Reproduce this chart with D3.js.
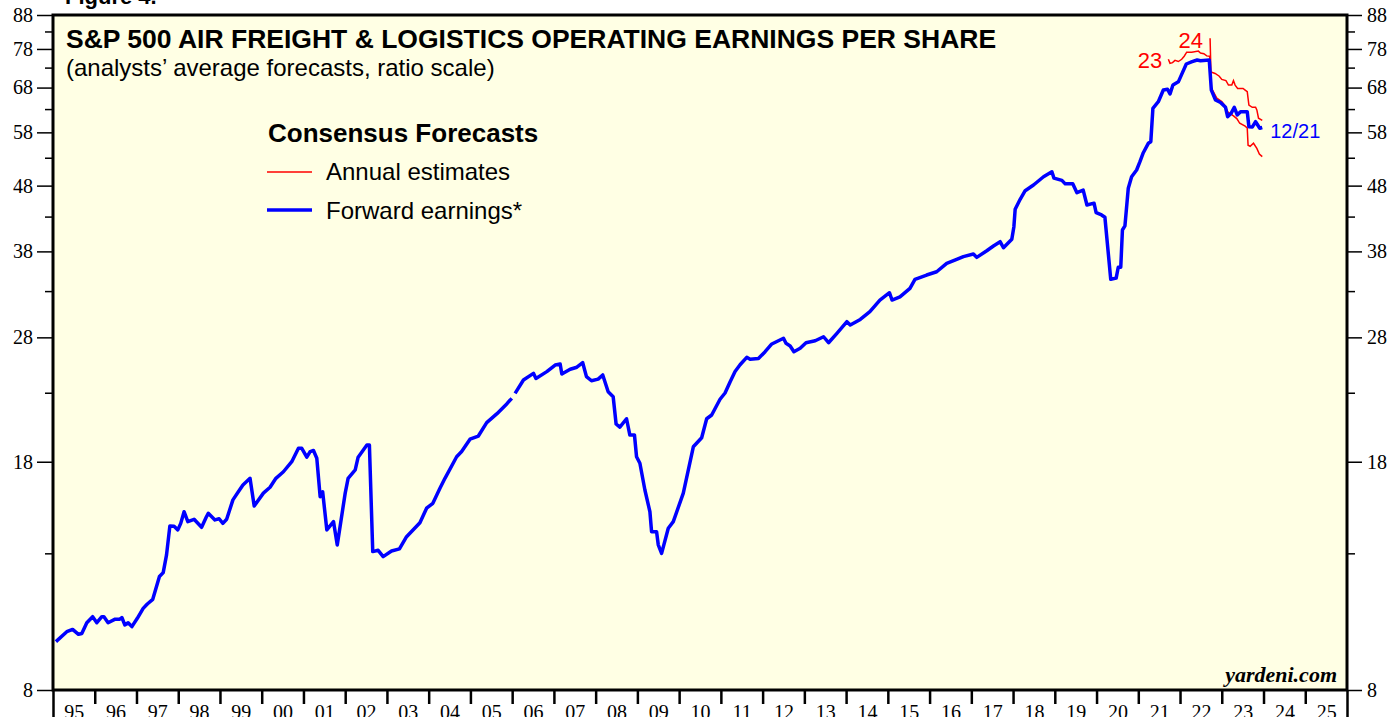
<!DOCTYPE html>
<html>
<head>
<meta charset="utf-8">
<script src="https://cdn.jsdelivr.net/npm/d3@7"></script>
<style>
  body { margin: 0; background: #ffffff; }
  svg { display: block; }
  .axis text { font-family: "Liberation Serif", "Times New Roman", serif; font-size: 20px; fill: #000; }
  .axis line { stroke: #000; }
  .axis path { display: none; }
  .label { font-family: "Liberation Sans", Arial, sans-serif; }
</style>
</head>
<body>
<svg id="chart"></svg>
<script>
// Forward earnings (weekly series), [decimal year, value]
const forwardEarnings = [
  [1995.07, 9.50], [1995.33, 9.84], [1995.47, 9.92], [1995.61, 9.75], [1995.69, 9.78], [1995.81, 10.16],
  [1995.95, 10.38], [1996.05, 10.16], [1996.17, 10.38], [1996.22, 10.38], [1996.32, 10.16], [1996.49, 10.29],
  [1996.60, 10.29], [1996.65, 10.35], [1996.72, 10.08], [1996.80, 10.16], [1996.89, 10.02], [1997.02, 10.32],
  [1997.16, 10.69], [1997.26, 10.86], [1997.39, 11.04], [1997.55, 11.97], [1997.64, 12.14], [1997.72, 12.93],
  [1997.80, 14.33], [1997.90, 14.31], [1997.99, 14.13], [1998.06, 14.46], [1998.14, 15.07], [1998.23, 14.55],
  [1998.38, 14.67], [1998.56, 14.26], [1998.67, 14.78], [1998.72, 14.99], [1998.88, 14.64], [1998.98, 14.70],
  [1999.07, 14.46], [1999.16, 14.67], [1999.31, 15.72], [1999.44, 16.18], [1999.55, 16.57], [1999.72, 16.97],
  [1999.82, 15.38], [2000.04, 16.10], [2000.20, 16.44], [2000.34, 16.97], [2000.52, 17.37], [2000.72, 18.00],
  [2000.88, 18.88], [2000.96, 18.88], [2001.08, 18.29], [2001.16, 18.66], [2001.24, 18.73], [2001.32, 18.22],
  [2001.40, 15.90], [2001.46, 16.18], [2001.56, 14.13], [2001.72, 14.55], [2001.81, 13.39], [2002.00, 16.10],
  [2002.07, 16.97], [2002.24, 17.48], [2002.31, 18.29], [2002.52, 19.10], [2002.58, 19.10], [2002.66, 13.08],
  [2002.79, 13.14], [2002.91, 12.85], [2003.11, 13.11], [2003.30, 13.21], [2003.47, 13.79], [2003.79, 14.49],
  [2003.95, 15.26], [2004.10, 15.53], [2004.27, 16.38], [2004.39, 16.97], [2004.67, 18.32], [2004.79, 18.66],
  [2004.99, 19.50], [2005.19, 19.72], [2005.39, 20.68], [2005.63, 21.33], [2005.87, 22.10], [2005.99, 22.55],
  [2006.03, null],
  [2006.07, 22.95], [2006.27, 24.06], [2006.51, 24.64], [2006.57, 24.20], [2006.83, 24.79], [2007.03, 25.38],
  [2007.15, 25.47], [2007.19, 24.58], [2007.39, 25.00], [2007.55, 25.18], [2007.69, 25.59], [2007.78, 24.35],
  [2007.90, 24.00], [2008.06, 24.14], [2008.17, 24.50], [2008.30, 23.08], [2008.42, 22.67], [2008.49, 20.58],
  [2008.58, 20.35], [2008.74, 20.97], [2008.82, 19.79], [2008.93, 19.79], [2008.98, 18.32], [2009.06, 17.90],
  [2009.18, 16.28], [2009.30, 15.07], [2009.34, 14.04], [2009.46, 14.04], [2009.50, 13.40], [2009.58, 13.00],
  [2009.74, 14.21], [2009.86, 14.55], [2010.10, 16.10], [2010.34, 18.98], [2010.54, 19.60], [2010.66, 20.97],
  [2010.78, 21.25], [2010.98, 22.47], [2011.10, 22.98], [2011.22, 23.90], [2011.34, 24.80], [2011.46, 25.40],
  [2011.62, 26.08], [2011.70, 25.90], [2011.90, 25.97], [2012.06, 26.61], [2012.22, 27.35], [2012.50, 27.91],
  [2012.56, 27.41], [2012.66, 27.16], [2012.75, 26.61], [2012.90, 26.93], [2013.04, 27.47], [2013.26, 27.66],
  [2013.46, 28.06], [2013.58, 27.47], [2013.78, 28.40], [2014.02, 29.60], [2014.10, 29.26], [2014.34, 29.84],
  [2014.57, 30.67], [2014.81, 31.97], [2015.04, 32.81], [2015.10, 31.97], [2015.29, 32.33], [2015.53, 33.33],
  [2015.65, 34.41], [2015.93, 34.94], [2016.17, 35.35], [2016.41, 36.42], [2016.65, 36.94], [2016.81, 37.30],
  [2017.05, 37.65], [2017.13, 37.20], [2017.37, 38.09], [2017.53, 38.74], [2017.69, 39.33], [2017.77, 38.49],
  [2017.97, 39.67], [2018.02, 41.48], [2018.05, 44.13], [2018.17, 45.73], [2018.29, 47.14], [2018.49, 48.11],
  [2018.73, 49.54], [2018.93, 50.43], [2018.98, 49.30], [2019.17, 48.90], [2019.25, 48.30], [2019.43, 48.30],
  [2019.53, 46.81], [2019.68, 47.24], [2019.77, 44.81], [2019.94, 45.10], [2019.99, 43.60], [2020.12, 43.25],
  [2020.20, 42.90], [2020.34, 34.41], [2020.47, 34.56], [2020.52, 35.92], [2020.58, 35.92], [2020.62, 41.00],
  [2020.68, 41.60], [2020.76, 47.55], [2020.84, 49.54], [2020.96, 50.74], [2021.04, 52.26], [2021.12, 53.95],
  [2021.24, 55.78], [2021.30, 56.10], [2021.35, 63.18], [2021.48, 64.67], [2021.60, 67.42], [2021.70, 67.60],
  [2021.76, 66.47], [2021.83, 68.62], [2021.96, 69.40], [2022.05, 71.53], [2022.15, 73.94], [2022.29, 74.57],
  [2022.41, 75.00], [2022.49, 74.80], [2022.70, 75.00], [2022.75, 67.40], [2022.85, 65.07], [2022.97, 64.50],
  [2023.09, 63.40], [2023.14, 61.32], [2023.22, 62.00], [2023.30, 63.40], [2023.37, 61.70], [2023.45, 62.42],
  [2023.61, 62.42], [2023.65, 59.18], [2023.73, 59.10], [2023.81, 60.24], [2023.91, 58.85], [2023.97, 59.00]
];

// Annual consensus estimates for 2023 and 2024
const estimates2023 = [
  [2021.72, 75.2], [2021.76, 74.1], [2021.82, 74.3], [2021.88, 74.9], [2021.96, 74.6], [2022.04, 75.2],
  [2022.10, 76.0], [2022.16, 77.1], [2022.28, 77.1], [2022.44, 77.4], [2022.49, 76.9], [2022.57, 76.7],
  [2022.64, 76.1], [2022.71, 76.0], [2022.74, 68.2], [2022.80, 67.0], [2022.88, 65.5], [2023.00, 64.7],
  [2023.08, 63.7], [2023.14, 62.4], [2023.28, 61.5], [2023.36, 60.9], [2023.43, 59.9], [2023.56, 59.3],
  [2023.61, 58.9], [2023.63, 55.4], [2023.68, 55.2], [2023.76, 55.8], [2023.84, 54.8], [2023.90, 53.7],
  [2023.97, 53.2]
];
const estimates2024 = [
  [2022.72, 81.0], [2022.74, 71.9], [2022.84, 71.5], [2022.94, 70.8], [2023.00, 70.0], [2023.10, 69.7],
  [2023.16, 68.6], [2023.24, 68.6], [2023.28, 69.7], [2023.32, 68.6], [2023.38, 67.8], [2023.51, 67.8],
  [2023.56, 67.4], [2023.61, 67.0], [2023.65, 63.9], [2023.73, 63.4], [2023.81, 63.4], [2023.84, 62.8],
  [2023.88, 61.0], [2023.97, 60.5]
];

const yMajorTicks = [8, 18, 28, 38, 48, 58, 68, 78, 88];
const yMinorTicks = [13, 23, 33, 43, 53, 63, 73, 83];
const years = d3.range(1995, 2027);
const yearLabels = d3.range(1995, 2026);
const lastDateLabel = '12/21';

class LogLineChart {

    constructor(_config) {
      this.config = {
        parentElement: _config.parentElement,
        containerWidth: _config.containerWidth || 1394,
        containerHeight: _config.containerHeight || 717,
        margin: _config.margin || {top: 15, right: 47, bottom: 27, left: 53}
      };
      this.initVis();
    }

    initVis() {
      let vis = this;

      vis.width = vis.config.containerWidth - vis.config.margin.left - vis.config.margin.right;
      vis.height = vis.config.containerHeight - vis.config.margin.top - vis.config.margin.bottom;

      vis.xScale = d3.scaleLinear()
          .domain([1995, 2026])
          .range([0, vis.width]);

      vis.yScale = d3.scaleLog()
          .domain([8, 88])
          .range([vis.height, 0]);

      vis.svg = d3.select(vis.config.parentElement)
          .attr('width', vis.config.containerWidth)
          .attr('height', vis.config.containerHeight);

      vis.chart = vis.svg.append('g')
          .attr('transform', `translate(${vis.config.margin.left},${vis.config.margin.top})`);

      // plot background
      vis.chart.append('rect')
          .attr('width', vis.width)
          .attr('height', vis.height)
          .attr('fill', '#ffffe4');

      vis.line = d3.line()
          .defined(d => d[1] != null)
          .x(d => vis.xScale(d[0]))
          .y(d => vis.yScale(d[1]));
    }

    renderVis() {
      let vis = this;

      // y axes, majors with labels and minors without
      const yLeft = vis.chart.append('g').attr('class', 'axis');
      yLeft.call(d3.axisLeft(vis.yScale).tickValues(yMajorTicks).tickSize(16).tickPadding(4).tickFormat(d3.format('d')));
      yLeft.append('g').call(d3.axisLeft(vis.yScale).tickValues(yMinorTicks).tickSize(8).tickFormat(''));

      const yRight = vis.chart.append('g').attr('class', 'axis')
          .attr('transform', `translate(${vis.width},0)`);
      yRight.call(d3.axisRight(vis.yScale).tickValues(yMajorTicks).tickSize(15).tickPadding(5).tickFormat(d3.format('d')));
      yRight.append('g').call(d3.axisRight(vis.yScale).tickValues(yMinorTicks).tickSize(8).tickFormat(''));
      vis.chart.selectAll('.axis line').attr('stroke-width', 1.5);

      // x axis: year boundaries as ticks, labels in the middle of each year
      const xAxisG = vis.chart.append('g').attr('class', 'axis')
          .attr('transform', `translate(0,${vis.height})`);
      xAxisG.call(d3.axisBottom(vis.xScale).tickValues(years).tickSize(14).tickFormat(''));
      xAxisG.selectAll('line').attr('stroke-width', 2.5)
          .attr('y2', d => (d === 1995 || d === 2026) ? 30 : 14);
      const xLabelG = vis.chart.append('g').attr('class', 'axis')
          .attr('transform', `translate(0,${vis.height})`);
      xLabelG.call(d3.axisBottom(vis.xScale).tickValues(yearLabels.map(y => y + 0.5))
          .tickSize(0).tickPadding(15).tickFormat(d => String(Math.floor(d) % 100).padStart(2, '0')));

      // series
      vis.chart.append('path')
          .datum(estimates2023)
          .attr('fill', 'none')
          .attr('stroke', '#ff0000')
          .attr('stroke-width', 1.5)
          .attr('d', vis.line);

      vis.chart.append('path')
          .datum(estimates2024)
          .attr('fill', 'none')
          .attr('stroke', '#ff0000')
          .attr('stroke-width', 1.5)
          .attr('d', vis.line);

      vis.chart.append('path')
          .datum(forwardEarnings)
          .attr('fill', 'none')
          .attr('stroke', '#0000ff')
          .attr('stroke-width', 3.5)
          .attr('stroke-linejoin', 'round')
          .attr('d', vis.line);

      // frame
      vis.chart.append('rect')
          .attr('width', vis.width)
          .attr('height', vis.height)
          .attr('fill', 'none')
          .attr('stroke', '#000')
          .attr('stroke-width', 3);

      // series end labels
      const s23 = estimates2023[0], s24 = estimates2024[0], fLast = forwardEarnings[forwardEarnings.length - 1];
      vis.chart.append('text').attr('class', 'label')
          .attr('x', vis.xScale(s23[0]) - 6).attr('y', vis.yScale(s23[1]) + 9)
          .attr('text-anchor', 'end').attr('font-size', 22).attr('fill', '#ff0000')
          .text('23');
      vis.chart.append('text').attr('class', 'label')
          .attr('x', vis.xScale(s24[0]) - 7).attr('y', vis.yScale(s24[1]) + 10)
          .attr('text-anchor', 'end').attr('font-size', 22).attr('fill', '#ff0000')
          .text('24');
      vis.chart.append('text').attr('class', 'label')
          .attr('x', vis.xScale(fLast[0]) + 8).attr('y', vis.yScale(fLast[1]) + 10)
          .attr('font-size', 20).attr('fill', '#0000ff')
          .text(lastDateLabel);

      // titles
      vis.svg.append('text').attr('class', 'label')
          .attr('x', 65).attr('y', 4)
          .attr('font-size', 22).attr('font-weight', 'bold')
          .text('Figure 4.');
      vis.svg.append('text').attr('class', 'label')
          .attr('x', 66).attr('y', 48)
          .attr('font-size', 26.5).attr('font-weight', 'bold')
          .text('S&P 500 AIR FREIGHT & LOGISTICS OPERATING EARNINGS PER SHARE');
      vis.svg.append('text').attr('class', 'label')
          .attr('x', 66).attr('y', 76)
          .attr('font-size', 24)
          .text('(analysts\u2019 average forecasts, ratio scale)');

      // legend
      const legend = vis.svg.append('g').attr('transform', 'translate(267,0)');
      legend.append('text').attr('class', 'label')
          .attr('x', 1).attr('y', 142)
          .attr('font-size', 26).attr('font-weight', 'bold')
          .text('Consensus Forecasts');
      legend.append('line')
          .attr('x1', 0).attr('x2', 45).attr('y1', 172).attr('y2', 172)
          .attr('stroke', '#ff0000').attr('stroke-width', 1.5);
      legend.append('text').attr('class', 'label')
          .attr('x', 59).attr('y', 180).attr('font-size', 24)
          .text('Annual estimates');
      legend.append('line')
          .attr('x1', 0).attr('x2', 45).attr('y1', 210).attr('y2', 210)
          .attr('stroke', '#0000ff').attr('stroke-width', 3.5);
      legend.append('text').attr('class', 'label')
          .attr('x', 59).attr('y', 219).attr('font-size', 24)
          .text('Forward earnings*');

      // source
      vis.svg.append('text')
          .attr('x', 1337).attr('y', 682)
          .attr('text-anchor', 'end')
          .attr('font-family', '"Liberation Serif", "Times New Roman", serif')
          .attr('font-size', 22).attr('font-weight', 'bold').attr('font-style', 'italic')
          .text('yardeni.com');
    }
}

const chart = new LogLineChart({ parentElement: '#chart' });
chart.renderVis();
</script>
</body>
</html>
